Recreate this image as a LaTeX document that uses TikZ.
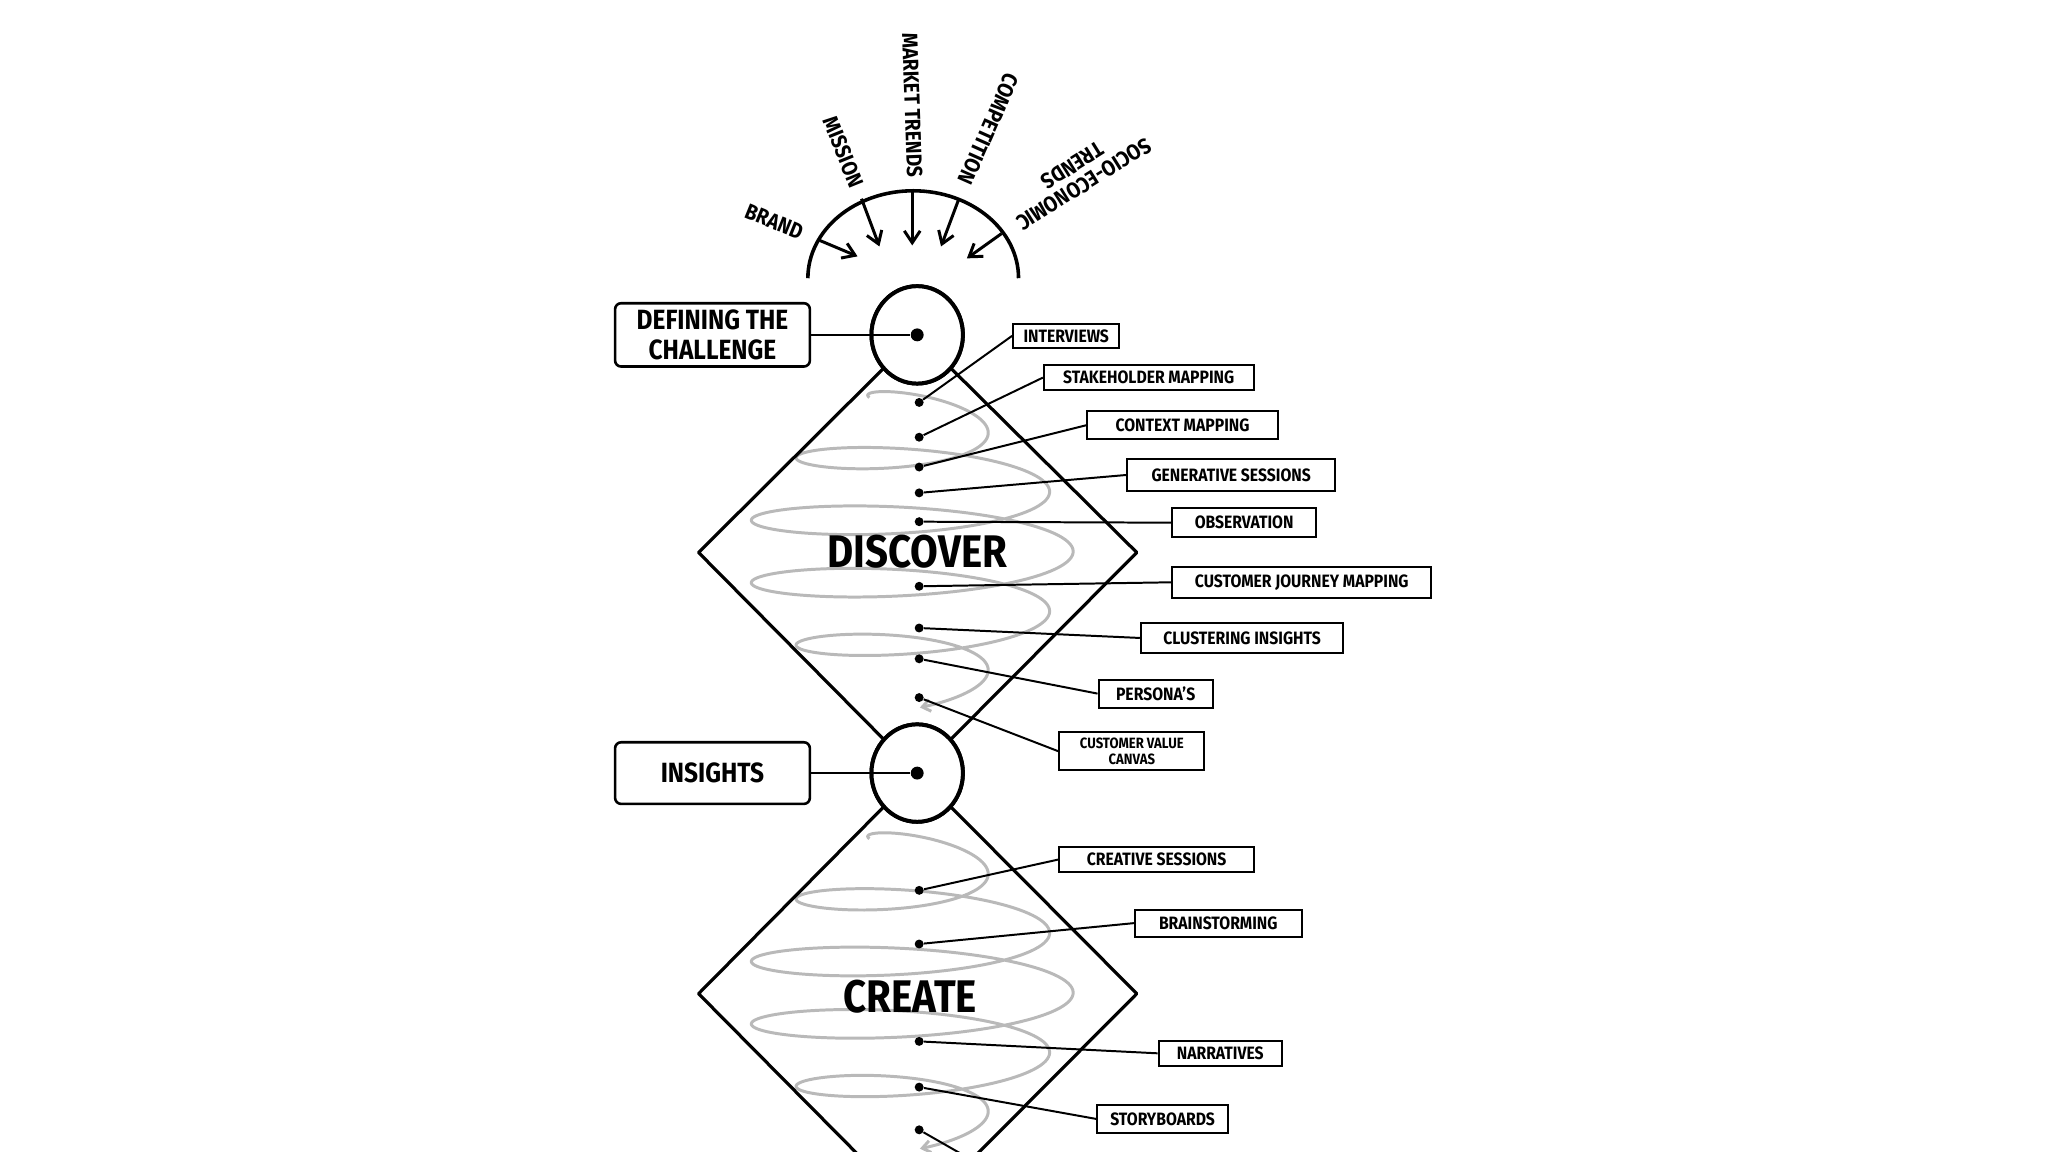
\documentclass[tikz,border=0pt]{standalone}
\usepackage{fontspec}
\setmainfont{Fira Sans}[FakeStretch=0.88]
\usetikzlibrary{arrows.meta,shapes.geometric}

\begin{document}
\begin{tikzpicture}[x=0.5pt,y=-0.5pt,
	stage/.style={ellipse, draw, line width=2pt, fill=white, minimum width=46pt, minimum height=49pt, inner sep=0pt},
	dot/.style={circle, fill=black, minimum size=4.5pt, inner sep=0pt},
	bigdot/.style={circle, fill=black, minimum size=6.5pt, inner sep=0pt},
	phase/.style={draw, rounded corners=3pt, line width=1.3pt, minimum width=98pt, minimum height=31pt, align=center, font=\fontsize{14}{15}\selectfont\bfseries},
	method/.style={draw, line width=1pt, inner sep=1pt, align=center, font=\fontsize{9}{9.5}\selectfont\bfseries},
	input/.style={font=\fontsize{11}{11}\selectfont\bfseries, align=center, inner sep=1pt},
	title/.style={font=\fontsize{23}{24}\selectfont\bfseries},
	spiral/.style={draw=gray!55, line width=1.5pt, -{Straight Barb[length=4pt,width=6pt]}},
	link/.style={line width=1pt},
	>={Straight Barb[length=6pt,width=8pt]}
	]
	
	\useasboundingbox (0,0) rectangle (2061,1159);
	\clip (0,0) rectangle (2061,1159);
	
	%-----------------------
	% Spirals (grey)
	%-----------------------
	\draw[spiral] plot[domain=0:1700, samples=500]
		({915-(40+125*sin(\x/10))*cos(\x)},
		 {400+0.1722*\x-(14+0.09*(40+125*sin(\x/10)))*sin(\x)});
	\draw[spiral] plot[domain=0:1700, samples=500]
		({915-(40+125*sin(\x/10))*cos(\x)},
		 {844+0.1722*\x-(14+0.09*(40+125*sin(\x/10)))*sin(\x)});
	
	%-----------------------
	% Diamonds
	%-----------------------
	\coordinate (D1-l) at (703,556);
	\coordinate (D1-r) at (1144,556);
	\coordinate (D2-l) at (703,1000);
	\coordinate (D2-r) at (1144,1000);
	\coordinate (D2-b) at (923,1222);
	
	\node[stage] (chal) at (923,337) {};
	\node[stage] (ins) at (923,778) {};
	
	\draw[line width=1.6pt, line join=round] (chal.center) -- (D1-l) -- (ins.center) -- (D1-r) -- cycle;
	\draw[line width=1.6pt, line join=round] (ins.center) -- (D2-l) -- (D2-b) -- (D2-r) -- cycle;
	
	% redraw the stages on top of the diamonds
	\node[stage] at (chal) {};
	\node[stage] at (ins) {};
	\node[bigdot] (chal-dot) at (chal.center) {};
	\node[bigdot] (ins-dot) at (ins.center) {};
	
	\node[title] (discover) at (923,555) {DISCOVER};
	\node[title] (create) at (916,1003) {CREATE};
	
	%-----------------------
	% Phase boxes (left)
	%-----------------------
	\node[phase] (defbox) at (717,337) {DEFINING THE\\CHALLENGE};
	\node[phase] (insbox) at (717,778) {INSIGHTS};
	\draw[link, line width=1.3pt] (defbox.east) -- (chal-dot);
	\draw[link, line width=1.3pt] (insbox.east) -- (ins-dot);
	
	%-----------------------
	% Inputs (top arc)
	%-----------------------
	\draw[line width=1.8pt] (813,280) arc[start angle=180, end angle=360, x radius=106, y radius=88];
	
	\coordinate (a-brand) at (825,242);   \coordinate (t-brand) at (863,258);
	\coordinate (a-mission) at (867,200); \coordinate (t-mission) at (885,248);
	\coordinate (a-market) at (918,193);  \coordinate (t-market) at (918,247);
	\coordinate (a-comp) at (965,200);    \coordinate (t-comp) at (947,248);
	\coordinate (a-socio) at (1008,235);  \coordinate (t-socio) at (973,260);
	
	\draw[->, line width=1.5pt] (a-brand) -- (t-brand);
	\draw[->, line width=1.5pt] (a-mission) -- (t-mission);
	\draw[->, line width=1.5pt] (a-market) -- (t-market);
	\draw[->, line width=1.5pt] (a-comp) -- (t-comp);
	\draw[->, line width=1.5pt] (a-socio) -- (t-socio);
	
	\node[input, rotate=-22] (brand) at (779,223) {BRAND};
	\node[input, rotate=-68] (mission) at (849,153) {MISSION};
	\node[input, rotate=-88] (market) at (918,106) {MARKET TRENDS};
	\node[input, rotate=-114] (comp) at (995,130) {COMPETITION};
	\node[input, rotate=-148] (socio) at (1085,176) {SOCIO-ECONOMIC\\TRENDS};
	
	%-----------------------
	% Discover methods
	%-----------------------
	\node[dot] (p-1) at (925,405) {};
	\node[dot] (p-2) at (925,440) {};
	\node[dot] (p-3) at (925,470) {};
	\node[dot] (p-4) at (925,496) {};
	\node[dot] (p-5) at (925,525) {};
	\node[dot] (p-6) at (925,590) {};
	\node[dot] (p-7) at (925,632) {};
	\node[dot] (p-8) at (925,663) {};
	\node[dot] (p-9) at (925,702) {};
	
	\node[method, minimum width=53.5pt, minimum height=12pt] (m-1) at (1073,338) {INTERVIEWS};
	\node[method, minimum width=105.5pt, minimum height=12.5pt] (m-2) at (1156,380) {STAKEHOLDER MAPPING};
	\node[method, minimum width=96pt, minimum height=14pt] (m-3) at (1190,428) {CONTEXT MAPPING};
	\node[method, minimum width=104.5pt, minimum height=16pt] (m-4) at (1239,478) {GENERATIVE SESSIONS};
	\node[method, minimum width=72.5pt, minimum height=14.5pt] (m-5) at (1252,526) {OBSERVATION};
	\node[method, minimum width=130.5pt, minimum height=15.5pt] (m-6) at (1310,586) {CUSTOMER JOURNEY MAPPING};
	\node[method, minimum width=102pt, minimum height=15.5pt] (m-7) at (1250,642) {CLUSTERING INSIGHTS};
	\node[method, minimum width=57.5pt, minimum height=14pt] (m-8) at (1163,698) {PERSONA'S};
	\node[method, minimum width=73pt, minimum height=19pt, font=\fontsize{7.5}{8}\selectfont\bfseries] (m-9) at (1139,756) {CUSTOMER VALUE\\CANVAS};
	
	\draw[link] (p-1) -- (m-1.west);
	\draw[link] (p-2) -- (m-2.west);
	\draw[link] (p-3) -- (m-3.west);
	\draw[link] (p-4) -- (m-4.west);
	\draw[link] (p-5) -- (m-5.west);
	\draw[link] (p-6) -- (m-6.west);
	\draw[link] (p-7) -- (m-7.west);
	\draw[link] (p-8) -- (m-8.west);
	\draw[link] (p-9) -- (m-9.west);
	
	%-----------------------
	% Create methods
	%-----------------------
	\node[dot] (p-10) at (925,896) {};
	\node[dot] (p-11) at (925,950) {};
	\node[dot] (p-12) at (925,1048) {};
	\node[dot] (p-13) at (925,1094) {};
	\node[dot] (p-14) at (925,1137) {};
	\coordinate (p-14-end) at (974,1165);
	
	\node[method, minimum width=98pt, minimum height=13pt] (m-10) at (1164,865) {CREATIVE SESSIONS};
	\node[method, minimum width=84pt, minimum height=13.5pt] (m-11) at (1226,929) {BRAINSTORMING};
	\node[method, minimum width=62pt, minimum height=12.5pt] (m-12) at (1228,1060) {NARRATIVES};
	\node[method, minimum width=66pt, minimum height=14pt] (m-13) at (1170,1126) {STORYBOARDS};
	
	\draw[link] (p-10) -- (m-10.west);
	\draw[link] (p-11) -- (m-11.west);
	\draw[link] (p-12) -- (m-12.west);
	\draw[link] (p-13) -- (m-13.west);
	\draw[link] (p-14) -- (p-14-end);
	
\end{tikzpicture}
\end{document}
